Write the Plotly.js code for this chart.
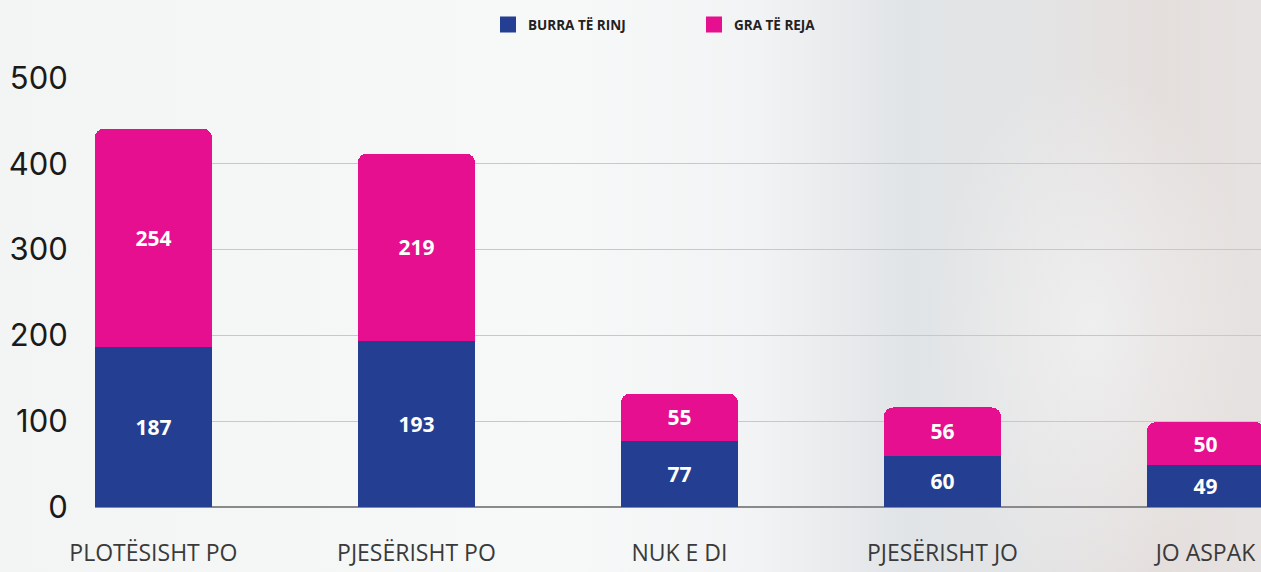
<!DOCTYPE html>
<html><head><meta charset="utf-8">
<script src="https://cdn.plot.ly/plotly-3.0.1.min.js"></script>
<style>
html,body{margin:0;padding:0;}
body{background:
  radial-gradient(ellipse 160px 260px at 1090px 330px, rgba(240,240,240,0.9), rgba(240,240,240,0) 100%),
  linear-gradient(90deg, #f3f4f4 0%, #f7f8f8 45%, #f2f3f4 60%, #e1e4e7 72%, #e4e4e5 82%, #e4dfdd 92%, #e6e2e1 100%);}
#chart{width:1261px;height:572px;}
</style>
</head><body><div id="chart"></div>
<script>
const categories = ["PLOTËSISHT PO", "PJESËRISHT PO", "NUK E DI", "PJESËRISHT JO", "JO ASPAK"];
const seriesNames = ["BURRA TË RINJ", "GRA TË REJA"];
const seriesColors = ["#243f91", "#e60f8f"];
const burra = [187, 193, 77, 60, 49];
const gra = [254, 219, 55, 56, 50];
const yTicks = [0, 100, 200, 300, 400, 500];

const idx = categories.map((c, i) => i);
const common = {
  type: 'bar', x: idx, textposition: 'inside', insidetextanchor: 'middle',
  textfont: {family: 'Open Sans', size: 21, color: '#ffffff', weight: 'bold'},
  texttemplate: '<b>%{y}</b>', hoverinfo: 'skip', width: 0.445, showlegend: false
};
const data = [
  Object.assign({}, common, {y: burra, name: seriesNames[0], marker: {color: seriesColors[0]}}),
  Object.assign({}, common, {y: gra, name: seriesNames[1], marker: {color: seriesColors[1]}}),
  {type: 'scatter', mode: 'markers', x: [null], y: [null], name: seriesNames[0], showlegend: true,
   marker: {symbol: 'square', size: 16, color: seriesColors[0]}, hoverinfo: 'skip'},
  {type: 'scatter', mode: 'markers', x: [null], y: [null], name: seriesNames[1], showlegend: true,
   marker: {symbol: 'square', size: 16, color: seriesColors[1]}, hoverinfo: 'skip'}
];
const layout = {
  width: 1261, height: 572,
  paper_bgcolor: 'rgba(0,0,0,0)', plot_bgcolor: 'rgba(0,0,0,0)',
  barmode: 'stack', barcornerradius: 9,
  margin: {l: 95, r: 0, t: 78, b: 65},
  showlegend: true,
  legend: {orientation: 'h', x: (488-95)/1166, xanchor: 'left', y: 1.124, yanchor: 'middle',
    entrywidth: 161, entrywidthmode: 'pixels', itemwidth: 30,
    font: {family: 'Open Sans', size: 13.5, color: '#222', weight: 'bold'}, traceorder: 'normal',
    bgcolor: 'rgba(0,0,0,0)'},
  xaxis: {range: [-0.222, 4.211], tickvals: idx, ticktext: categories, showgrid: false,
    ticks: 'outside', ticklen: 25, tickcolor: 'rgba(0,0,0,0)', showline: false, zeroline: false,
    tickfont: {family: 'Open Sans', size: 23, color: '#3a3a3a'}},
  yaxis: {range: [0, 500], tickvals: yTicks, showgrid: true, gridcolor: '#c8c8c8', gridwidth: 1,
    zeroline: true, zerolinecolor: '#8a8a8a', zerolinewidth: 1.5,
    ticks: 'outside', ticklen: 20, tickcolor: 'rgba(0,0,0,0)',
    tickfont: {family: 'Inter, Noto Sans', size: 31, color: '#1a1a1a'}}
};
Plotly.newPlot('chart', data, layout, {displayModeBar: false, staticPlot: true});
</script></body></html>
